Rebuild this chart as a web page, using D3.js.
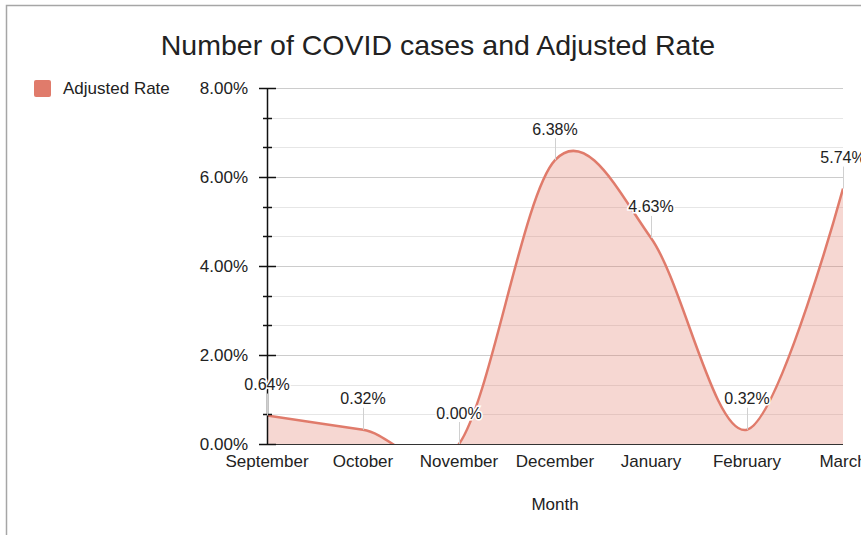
<!DOCTYPE html>
<html lang="en">
  <head>
    <meta charset="UTF-8" />
    <title>Number of COVID cases and Adjusted Rate</title>
    <script src="https://d3js.org/d3.v7.min.js"></script>
    <style>
      body {
        margin: 0;
        background: #fff;
      }
      svg text {
        font-family: "Liberation Sans", Arial, sans-serif;
        fill: #222;
      }
    </style>
  </head>
  <body>
    <svg id="chart" width="861" height="535"></svg>

    <script>
      // data
      const months = ["September", "October", "November", "December", "January", "February", "March"];
      const adjustedRate = [0.64, 0.32, 0.0, 6.38, 4.63, 0.32, 5.74];
      const yTicks = [0, 2, 4, 6, 8];
      const seriesName = "Adjusted Rate";
      const title = "Number of COVID cases and Adjusted Rate";
      const xTitle = "Month";

      const color = "#e07b6b";
      const data = months.map((m, i) => ({ month: m, value: adjustedRate[i] }));

      const svg = d3.select("#chart");
      const plot = { left: 267, right: 843, top: 88, bottom: 444 };

      const x = d3.scalePoint().domain(months).range([plot.left, plot.right]);
      const y = d3.scaleLinear().domain([0, 8]).range([plot.bottom, plot.top]);

      // outer frame
      svg.append("rect")
        .attr("x", 6.5).attr("y", 5.5)
        .attr("width", 900).attr("height", 600)
        .attr("fill", "none")
        .attr("stroke", "#a6a6a6")
        .attr("stroke-width", 1.5);

      // title
      svg.append("text")
        .attr("x", 438).attr("y", 55)
        .attr("text-anchor", "middle")
        .attr("font-size", 28.5)
        .attr("fill", "#111")
        .text(title);

      // legend
      svg.append("rect")
        .attr("x", 34).attr("y", 80)
        .attr("width", 17).attr("height", 17)
        .attr("rx", 2)
        .attr("fill", color);
      svg.append("text")
        .attr("x", 63).attr("y", 93.5)
        .attr("font-size", 17)
        .text(seriesName);

      // gridlines: each 2% step split in three
      const minor = [];
      yTicks.slice(0, -1).forEach((t, i) => {
        const step = (yTicks[i + 1] - t) / 3;
        minor.push(t + step, t + 2 * step);
      });

      svg.append("g").selectAll("line")
        .data(minor)
        .join("line")
        .attr("x1", plot.left).attr("x2", plot.right)
        .attr("y1", (d) => Math.round(y(d)) + 0.5)
        .attr("y2", (d) => Math.round(y(d)) + 0.5)
        .attr("stroke", "#e6e6e6");

      svg.append("g").selectAll("line")
        .data(yTicks.filter((d) => d > 0))
        .join("line")
        .attr("x1", plot.left).attr("x2", plot.right)
        .attr("y1", (d) => Math.round(y(d)) + 0.5)
        .attr("y2", (d) => Math.round(y(d)) + 0.5)
        .attr("stroke", "#cccccc");

      // area + line, clipped to the plot box
      svg.append("clipPath")
        .attr("id", "clip")
        .append("rect")
        .attr("x", plot.left).attr("y", plot.top)
        .attr("width", plot.right - plot.left)
        .attr("height", plot.bottom - plot.top);

      const curve = d3.curveCardinal.tension(0);
      const area = d3.area()
        .x((d) => x(d.month))
        .y0(y(0))
        .y1((d) => y(d.value))
        .curve(curve);
      const line = d3.line()
        .x((d) => x(d.month))
        .y((d) => y(d.value))
        .curve(curve);

      const g = svg.append("g").attr("clip-path", "url(#clip)");
      g.append("path")
        .datum(data)
        .attr("d", area)
        .attr("fill", color)
        .attr("fill-opacity", 0.3);
      g.append("path")
        .datum(data)
        .attr("d", line)
        .attr("fill", "none")
        .attr("stroke", color)
        .attr("stroke-width", 2.5);

      // baseline
      svg.append("line")
        .attr("x1", plot.left).attr("x2", plot.right)
        .attr("y1", y(0) + 0.5).attr("y2", y(0) + 0.5)
        .attr("stroke", "#333");

      // y axis with major and minor ticks
      const axis = svg.append("g");
      axis.append("line")
        .attr("x1", plot.left + 0.5).attr("x2", plot.left + 0.5)
        .attr("y1", plot.top).attr("y2", plot.bottom + 1)
        .attr("stroke", "#111").attr("stroke-width", 1.5);
      axis.selectAll(".major")
        .data(yTicks)
        .join("line")
        .attr("class", "major")
        .attr("x1", plot.left - 8).attr("x2", plot.left + 9)
        .attr("y1", (d) => Math.round(y(d)) + 0.5)
        .attr("y2", (d) => Math.round(y(d)) + 0.5)
        .attr("stroke", "#111").attr("stroke-width", 1.5);
      axis.selectAll(".minor")
        .data(minor)
        .join("line")
        .attr("class", "minor")
        .attr("x1", plot.left - 4).attr("x2", plot.left + 5)
        .attr("y1", (d) => Math.round(y(d)) + 0.5)
        .attr("y2", (d) => Math.round(y(d)) + 0.5)
        .attr("stroke", "#111").attr("stroke-width", 1.5);
      axis.selectAll("text")
        .data(yTicks)
        .join("text")
        .attr("x", 248)
        .attr("y", (d) => y(d) + 6)
        .attr("text-anchor", "end")
        .attr("font-size", 17)
        .text((d) => d.toFixed(2) + "%");

      // x labels
      svg.append("g").selectAll("text")
        .data(months)
        .join("text")
        .attr("x", (d) => x(d))
        .attr("y", 467)
        .attr("text-anchor", "middle")
        .attr("font-size", 17)
        .text((d) => d);

      svg.append("text")
        .attr("x", (plot.left + plot.right) / 2)
        .attr("y", 510)
        .attr("text-anchor", "middle")
        .attr("font-size", 17)
        .text(xTitle);

      // annotations: stem + value label
      const ann = svg.append("g");
      ann.selectAll("line")
        .data(data)
        .join("line")
        .attr("x1", (d) => x(d.month) + 0.5)
        .attr("x2", (d) => x(d.month) + 0.5)
        .attr("y1", (d) => y(d.value) - 22)
        .attr("y2", (d) => y(d.value))
        .attr("stroke", "#d0d0d0");
      ann.selectAll("text")
        .data(data)
        .join("text")
        .attr("x", (d) => x(d.month))
        .attr("y", (d) => y(d.value) - 25.5)
        .attr("text-anchor", "middle")
        .attr("font-size", 16)
        .attr("stroke", "#fff")
        .attr("stroke-width", 3)
        .attr("paint-order", "stroke")
        .text((d) => d.value.toFixed(2) + "%");
    </script>
  </body>
</html>
